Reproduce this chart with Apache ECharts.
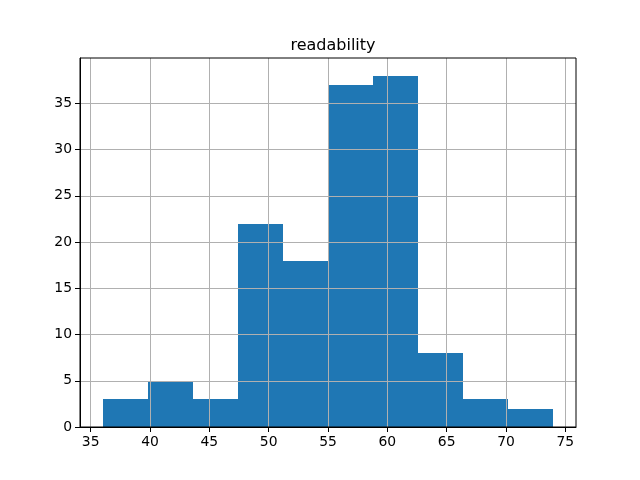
<!DOCTYPE html>
<html>
<head>
<meta charset="utf-8">
<script src="https://cdn.jsdelivr.net/npm/echarts@6/dist/echarts.min.js"></script>
<style>html,body{margin:0;padding:0;background:#fff}#c{width:640px;height:480px}</style>
</head>
<body>
<div id="c"></div>
<script>
const title = "readability";
const binEdges = [36, 39.8, 43.6, 47.4, 51.2, 55, 58.8, 62.6, 66.4, 70.2, 74];
const counts = [3, 5, 3, 22, 18, 37, 38, 8, 3, 2];
const xTicks = [35, 40, 45, 50, 55, 60, 65, 70, 75];
const yTicks = [0, 5, 10, 15, 20, 25, 30, 35];

const data = counts.map((c, i) => [binEdges[i], binEdges[i + 1], c]);
const span = binEdges[binEdges.length - 1] - binEdges[0];
const xMin = binEdges[0] - span * 0.05;
const xMax = binEdges[binEdges.length - 1] + span * 0.05;
const yMax = Math.max(...counts) * 1.05;

const font = 'DejaVu Sans';
const chart = echarts.init(document.getElementById('c'), null, {renderer: 'canvas'});
chart.setOption({
  animation: false,
  title: {
    text: title, left: 328, top: 33, textAlign: 'center',
    textStyle: {fontFamily: font, fontSize: 16, fontWeight: 'normal', color: '#000'}
  },
  grid: {left: 80, right: 64, top: 58, bottom: 53, show: true, borderColor: '#000', borderWidth: 1, z: 4},
  xAxis: {
    type: 'value', min: xMin, max: xMax, z: 3,
    axisLine: {show: true, onZero: false, lineStyle: {color: '#000', width: 1}},
    axisTick: {show: true, length: 5, customValues: xTicks, lineStyle: {color: '#000'}},
    axisLabel: {customValues: xTicks, fontFamily: font, fontSize: 13.9, color: '#000', margin: 8},
    splitLine: {show: true, lineStyle: {color: '#b0b0b0', width: 1}}
  },
  yAxis: {
    type: 'value', min: 0, max: yMax, z: 3,
    axisLine: {show: true, lineStyle: {color: '#000', width: 1}},
    axisTick: {show: true, length: 5, customValues: yTicks, lineStyle: {color: '#000'}},
    axisLabel: {customValues: yTicks, fontFamily: font, fontSize: 13.9, color: '#000', margin: 8},
    splitLine: {show: true, lineStyle: {color: '#b0b0b0', width: 1}}
  },
  series: [{
    type: 'custom', z: 1,
    data: data,
    renderItem: function (params, api) {
      const p0 = api.coord([api.value(0), 0]);
      const p1 = api.coord([api.value(1), api.value(2)]);
      const x0 = Math.round(p0[0]), x1 = Math.round(p1[0]);
      const yb = Math.round(p0[1]), yt = Math.round(p1[1]);
      return {
        type: 'rect',
        shape: {x: x0, y: yt, width: x1 - x0, height: yb - yt},
        style: {fill: '#1f77b4'}
      };
    },
    encode: {x: [0, 1], y: 2}
  }]
});
</script>
</body>
</html>
